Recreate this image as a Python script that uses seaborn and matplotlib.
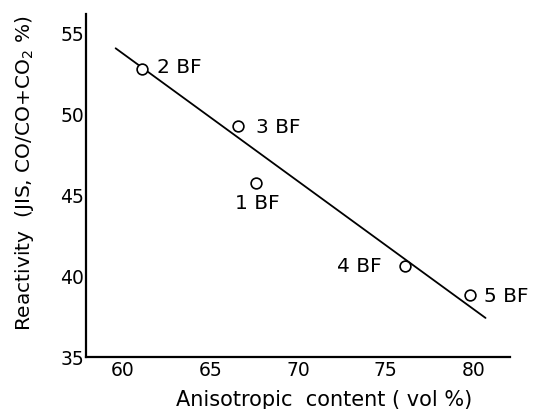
import matplotlib
matplotlib.use("Agg")
import matplotlib.pyplot as plt
import seaborn as sns
import pandas as pd

# Blast-furnace coke samples
samples = ["1 BF", "2 BF", "3 BF", "4 BF", "5 BF"]
anisotropic = [67.6, 61.1, 66.6, 76.1, 79.8]      # vol %
reactivity = [45.7, 52.7, 49.2, 40.6, 38.8]       # JIS, CO/CO+CO2 %

# Trend line end points
fit_x = [59.6, 80.7]
fit_y = [54.0, 37.4]

x_ticks = [60, 65, 70, 75, 80]
y_ticks = [35, 40, 45, 50, 55]

sns.set_style("white")
plt.rcParams["font.family"] = ["DejaVu Sans"]
plt.rcParams.update({
    "text.color": "black",
    "axes.labelcolor": "black",
    "xtick.color": "black",
    "ytick.color": "black",
})

df = pd.DataFrame({"sample": samples, "x": anisotropic, "y": reactivity})
fit = pd.DataFrame({"x": fit_x, "y": fit_y})

fig = plt.figure(figsize=(5.33, 4.10), dpi=100)
ax = fig.add_axes([0.161, 0.127, 0.796, 0.836])

sns.lineplot(data=fit, x="x", y="y", color="black", linewidth=1.3, ax=ax)
sns.scatterplot(data=df, x="x", y="y", s=60, marker="o", facecolor="white",
                edgecolor="black", linewidth=1.2, zorder=3, ax=ax)

# sample labels
offsets = {
    "2 BF": ((11, 2), "left"),
    "3 BF": ((13, 0), "left"),
    "1 BF": ((1, -14), "center"),
    "4 BF": ((-17, 0), "right"),
    "5 BF": ((10, 0), "left"),
}
for s, xv, yv in zip(samples, anisotropic, reactivity):
    off, ha = offsets[s]
    ax.annotate(s, (xv, yv), xytext=off, textcoords="offset points",
                ha=ha, va="center", fontsize=14.5, color="black")

ax.set_xlim(57.9, 82.1)
ax.set_ylim(35, 56.1)
ax.set_xticks(x_ticks)
ax.set_yticks(y_ticks)
ax.tick_params(axis="both", direction="in", length=4, width=1.2,
               labelsize=13.5, pad=2)
ax.tick_params(axis="y", pad=1)

for side in ["top", "right"]:
    ax.spines[side].set_visible(False)
for side in ["left", "bottom"]:
    ax.spines[side].set_linewidth(1.6)
    ax.spines[side].set_color("black")

ax.set_xlabel("Anisotropic  content ( vol %)", fontsize=15)
ax.set_ylabel("Reactivity  (JIS, CO/CO+CO$_2$ %)", fontsize=14.5)
ax.xaxis.set_label_coords(0.561, -0.095)
ax.yaxis.set_label_coords(-0.118, 0.54)

fig.savefig("out.png", dpi=100)
